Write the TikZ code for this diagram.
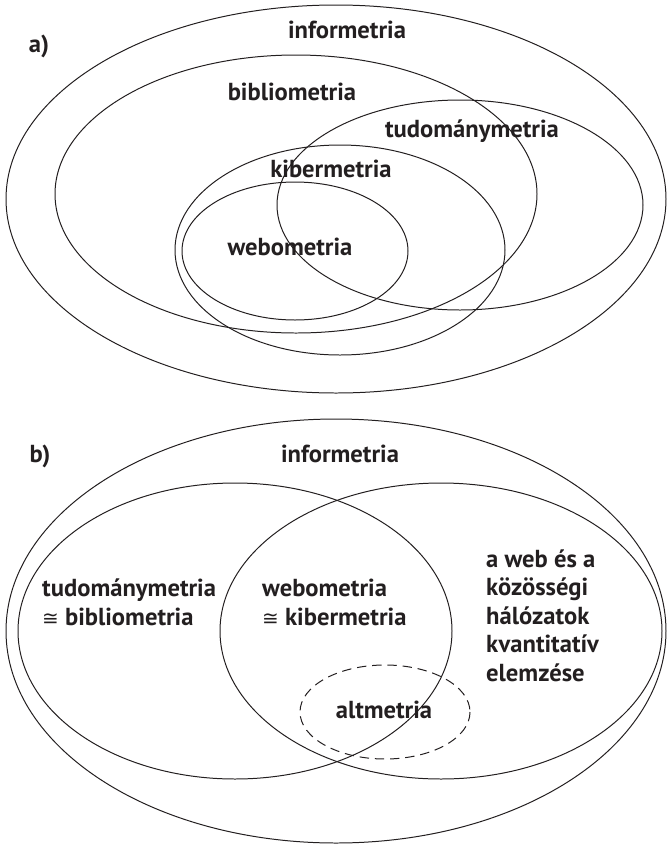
\documentclass[tikz,border=0pt]{standalone}
\usepackage{fontspec}
\setmainfont{PT Sans}
\newfontfamily\symfont{DejaVu Sans}
\usepackage{tikz}
\definecolor{inkblack}{RGB}{35,31,32}
\newcommand{\approxsign}{{\symfont\mdseries\fontsize{17}{24.3}\selectfont ≅}}

\begin{document}
\begin{tikzpicture}[x=0.3mm,y=-0.3mm]
            \useasboundingbox (0,0) rectangle (667,844);

            \begin{scope}[line width=0.85pt, draw=inkblack]
                % a)
                \draw (336,199) ellipse [x radius=330, y radius=194];
                \draw (296,194) ellipse [x radius=241, y radius=139];
                \draw (460,205) ellipse [x radius=183, y radius=105];
                \draw (340,250) ellipse [x radius=165, y radius=105];
                \draw (295,251) ellipse [x radius=113, y radius=69];
                % b)
                \draw (336,631) ellipse [x radius=330, y radius=212];
                \draw (235,631) ellipse [x radius=217, y radius=148];
                \draw (441,631) ellipse [x radius=221, y radius=148];
                \draw [dash pattern=on 8pt off 5pt] (385,712) ellipse [x radius=85, y radius=47];
            \end{scope}

            \begin{scope}[every node/.style={font=\fontsize{21}{24.3}\selectfont\bfseries,
                                             text=inkblack, anchor=base, inner sep=0pt}]
                \node (labelA) at (39,52) {a)};
                \node (infoA) at (347,38) {informetria};
                \node (biblioA) at (292,100) {bibliometria};
                \node (tudoA) at (472,137) {tudománymetria};
                \node (kiberA) at (331,177) {kibermetria};
                \node (weboA) at (290,255) {webometria};

                \node (labelB) at (40,462) {b)};
                \node (infoB) at (340,462) {informetria};
                \node [anchor=base west, align=left] (tudoB) at (42,625) {tudománymetria\\\approxsign\ bibliometria};
                \node [anchor=base west, align=left] (weboB) at (262,625) {webometria\\\approxsign\ kibermetria};
                \node [anchor=base west, align=left] (webB) at (486,681) {a web és a\\közösségi\\hálózatok\\kvantitatív\\elemzése};
                \node (altB) at (384,718) {altmetria};
            \end{scope}
\end{tikzpicture}
\end{document}
